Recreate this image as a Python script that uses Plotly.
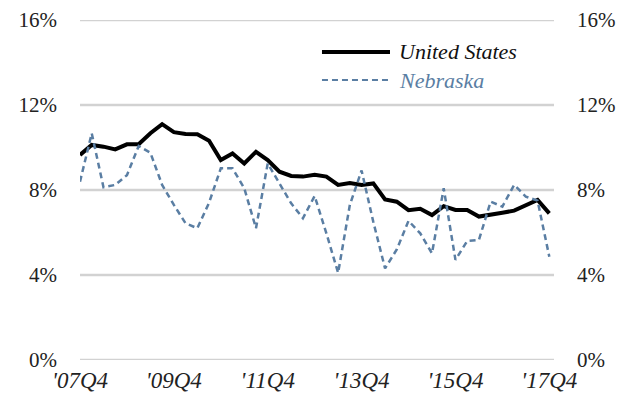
import plotly.graph_objects as go

tick_labels = ["'07Q4", "'09Q4", "'11Q4", "'13Q4", "'15Q4", "'17Q4"]

us = [9.65, 10.12, 10.04, 9.91, 10.15, 10.15, 10.67, 11.1, 10.72, 10.64,
      10.62, 10.32, 9.41, 9.72, 9.25, 9.8, 9.41, 8.86, 8.66, 8.63,
      8.72, 8.63, 8.24, 8.33, 8.24, 8.31, 7.56, 7.45, 7.05, 7.12,
      6.82, 7.24, 7.06, 7.06, 6.75, 6.82, 6.93, 7.03, 7.29, 7.53,
      6.9]
nebraska = [8.39, 10.67, 8.13, 8.24, 8.7, 10.07, 9.75, 8.24, 7.3, 6.43,
            6.2, 7.4, 9.02, 9.02, 8.08, 6.2, 9.25, 8.31, 7.37, 6.67,
            7.72, 5.96, 4.1, 7.3, 8.92, 6.5, 4.31, 5.2, 6.55, 5.96,
            5.02, 8.08, 4.71, 5.6, 5.65, 7.45, 7.22, 8.24, 7.69, 7.5,
            4.86]
y_ticks = [0, 4, 8, 12, 16]
y_tick_labels = ["0%", "4%", "8%", "12%", "16%"]

x = list(range(len(us)))
tickvals = [0, 8, 16, 24, 32, 40]

FONT = "Liberation Serif"
BLUE = "#5a7ea3"
GRID = "#d2d2d2"

fig = go.Figure()
fig.add_trace(go.Scatter(x=x, y=us, mode="lines", name="United States",
                         line=dict(color="#000000", width=4), showlegend=False))
fig.add_trace(go.Scatter(x=x, y=nebraska, mode="lines", name="Nebraska",
                         line=dict(color=BLUE, width=2.5, dash="6px,4px"), showlegend=False))
# invisible trace to enable the right axis
fig.add_trace(go.Scatter(x=[0], y=[0], yaxis="y2", mode="markers",
                         marker=dict(opacity=0), showlegend=False, hoverinfo="skip"))

# horizontal gridlines, one per y tick
grid_shapes = [
    dict(type="line", xref="paper", yref="y", x0=0, x1=1, y0=v, y1=v,
         layer="below", line=dict(color=GRID, width=2.5))
    for v in y_ticks
]

axis_font = dict(family=FONT, size=21, color="#222222")
fig.update_layout(
    template="none",
    width=635, height=409,
    margin=dict(l=80, r=81, t=20, b=49),
    paper_bgcolor="white", plot_bgcolor="white",
    xaxis=dict(range=[0, 40.4], tickvals=tickvals, ticktext=tick_labels,
               showgrid=False, zeroline=False, showline=False, automargin=False,
               tickfont=dict(family=FONT, size=23, color="#222222", style="italic"),
               ticks="", ticklabelstandoff=4),
    yaxis=dict(range=[0, 16], tickvals=y_ticks, ticktext=y_tick_labels,
               showgrid=False, automargin=False,
               zeroline=False, showline=False, tickfont=axis_font,
               ticks="", ticklabelstandoff=22),
    yaxis2=dict(range=[0, 16], tickvals=y_ticks, ticktext=y_tick_labels,
                overlaying="y", side="right", showgrid=False, automargin=False,
                zeroline=False, showline=False, tickfont=axis_font,
                ticks="", ticklabelstandoff=22),
    shapes=grid_shapes + [
        dict(type="line", xref="paper", yref="paper", x0=0.5105, x1=0.654,
             y0=0.906, y1=0.906, line=dict(color="#000000", width=4)),
        dict(type="line", xref="paper", yref="paper", x0=0.5105, x1=0.654,
             y0=0.8235, y1=0.8235, line=dict(color=BLUE, width=2, dash="6px,4px")),
    ],
    annotations=[
        dict(text="United States", xref="paper", yref="paper", x=0.669, y=0.906,
             xanchor="left", yanchor="middle", showarrow=False,
             font=dict(family=FONT, size=22, color="#111111", style="italic")),
        dict(text="Nebraska", xref="paper", yref="paper", x=0.669, y=0.8235,
             xanchor="left", yanchor="middle", showarrow=False,
             font=dict(family=FONT, size=22, color=BLUE, style="italic")),
    ],
)

fig.write_html("out.html", config={"displayModeBar": False},
               post_script="document.body.style.margin='0px';")
